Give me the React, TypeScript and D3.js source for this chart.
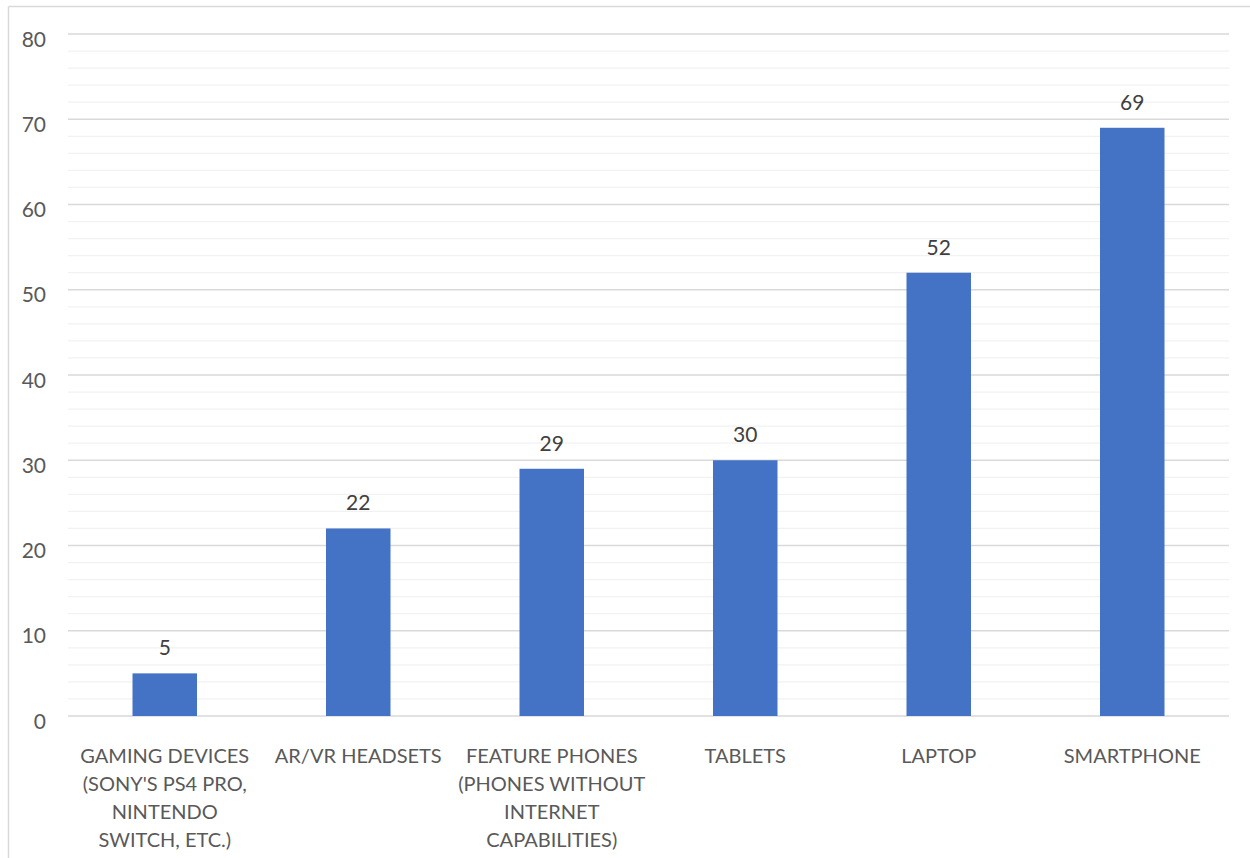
import React from "react";
import * as d3 from "d3";

// Device ownership counts by category
const categories: string[][] = [
  ["GAMING DEVICES", "(SONY'S PS4 PRO,", "NINTENDO", "SWITCH, ETC.)"],
  ["AR/VR HEADSETS"],
  ["FEATURE PHONES", "(PHONES WITHOUT", "INTERNET", "CAPABILITIES)"],
  ["TABLETS"],
  ["LAPTOP"],
  ["SMARTPHONE"],
];
const values: number[] = [5, 22, 29, 30, 52, 69];
const majorTicks: number[] = [0, 10, 20, 30, 40, 50, 60, 70, 80];
const minorTicks: number[] = d3.range(0, 81, 2).filter((v) => v % 10 !== 0);

const W = 1250;
const H = 858;
const FONT = "Lato, 'Open Sans', sans-serif";

export default function App() {
  const x = d3
    .scaleBand<number>()
    .domain(d3.range(values.length))
    .range([68, 1229])
    .paddingInner(2 / 3)
    .paddingOuter(1 / 3);
  const y = d3.scaleLinear().domain([0, 80]).range([716, 34]);

  const [x0, x1] = x.range();

  return (
    <svg
      width={W}
      height={H}
      style={{ position: "absolute", left: 0, top: 0, background: "#fff" }}
      fontFamily={FONT}
    >
      {/* chart area border */}
      <line x1={8.5} x2={W} y1={6.5} y2={6.5} stroke="#d9d9d9" strokeWidth={1.5} />
      <line x1={8.5} x2={8.5} y1={6.5} y2={H} stroke="#d9d9d9" strokeWidth={1.5} />

      {/* minor gridlines */}
      {minorTicks.map((t) => (
        <line key={"m" + t} x1={x0} x2={x1} y1={y(t)} y2={y(t)} stroke="#f2f2f2" strokeWidth={1.3} />
      ))}
      {/* major gridlines */}
      {majorTicks.map((t) => (
        <line key={"M" + t} x1={x0} x2={x1} y1={y(t)} y2={y(t)} stroke="#d9d9d9" strokeWidth={1.3} />
      ))}

      {/* y-axis labels */}
      {majorTicks.map((t) => (
        <text key={"yl" + t} x={46} y={y(t) + 12.5} textAnchor="end" fontSize={21} fill="#595959">
          {t}
        </text>
      ))}

      {/* bars */}
      {values.map((v, i) => (
        <rect key={"b" + i} x={x(i)} y={y(v)} width={x.bandwidth()} height={y(0) - y(v)} fill="#4472C4" />
      ))}

      {/* value labels */}
      {values.map((v, i) => (
        <text
          key={"v" + i}
          x={(x(i) as number) + x.bandwidth() / 2}
          y={y(v) - 18}
          textAnchor="middle"
          fontSize={21}
          fill="#404040"
        >
          {v}
        </text>
      ))}

      {/* category labels */}
      {categories.map((lines, i) => (
        <text
          key={"c" + i}
          x={(x(i) as number) + x.bandwidth() / 2}
          y={763}
          textAnchor="middle"
          fontSize={20}
          fill="#595959"
        >
          {lines.map((ln, j) => (
            <tspan key={j} x={(x(i) as number) + x.bandwidth() / 2} y={763 + j * 28}>
              {ln}
            </tspan>
          ))}
        </text>
      ))}
    </svg>
  );
}
